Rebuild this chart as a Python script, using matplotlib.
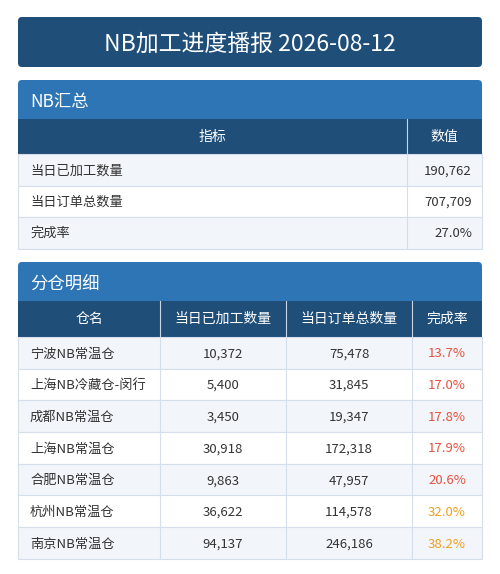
import matplotlib
matplotlib.use("Agg")
import matplotlib.pyplot as plt
from matplotlib.patches import Rectangle, FancyBboxPatch

plt.rcParams['font.family'] = ['Noto Sans CJK SC', 'DejaVu Sans']

title = "NB加工进度播报 2026-08-12"
sum_headers = ["指标", "数值"]
sum_labels = ["当日已加工数量", "当日订单总数量", "完成率"]
sum_values = ["190,762", "707,709", "27.0%"]
det_headers = ["仓名", "当日已加工数量", "当日订单总数量", "完成率"]
warehouses = ["宁波NB常温仓", "上海NB冷藏仓-闵行", "成都NB常温仓", "上海NB常温仓", "合肥NB常温仓", "杭州NB常温仓", "南京NB常温仓"]
processed = [10372, 5400, 3450, 30918, 9863, 36622, 94137]
orders = [75478, 31845, 19347, 172318, 47957, 114578, 246186]
rates = [13.7, 17.0, 17.8, 17.9, 20.6, 32.0, 38.2]

DARK = "#1f4e79"; MID = "#2e75b6"; ALT = "#f2f6fb"; LINE = "#d5dfeb"; TXT = "#333333"

fig = plt.figure(figsize=(5, 5.74), dpi=100)
ax = fig.add_axes([0, 0, 1, 1])
ax.set_xlim(0, 500); ax.set_ylim(574, 0); ax.axis("off")

def rbox(x0, y0, x1, y1, color, r=4):
    ax.add_patch(FancyBboxPatch((x0 + r, y0 + r), x1 - x0 - 2 * r, y1 - y0 - 2 * r,
                                boxstyle=f"round,pad={r}", fc=color, ec="none"))

L, R = 18, 482
rbox(L, 17, R, 67, DARK)
ax.text(250, 44, title, color="white", fontsize=16.5, ha="center", va="center")

def section(y0, y1, name):
    rbox(L, y0, R, y1 + 6, MID)
    ax.add_patch(Rectangle((L, y1), R - L, 6, fc=DARK, ec="none"))
    ax.text(30, (y0 + y1) / 2 + 3, name, color="white", fontsize=12.5, va="center")

def table(top, hh, rh, cols, headers, rows, colors=None):
    ax.add_patch(Rectangle((L, top), R - L, hh, fc=DARK, ec="none"))
    for i, h in enumerate(headers):
        ax.text((cols[i] + cols[i + 1]) / 2, top + hh / 2, h, color="white",
                fontsize=10, ha="center", va="center")
    for c in cols[1:-1]:
        ax.plot([c, c], [top, top + hh], color="#c8d6e6", lw=0.8)
    y = top + hh
    for r, row in enumerate(rows):
        ax.add_patch(Rectangle((L, y), R - L, rh, fc=ALT if r % 2 == 0 else "white",
                               ec=LINE, lw=0.8))
        for c in cols[1:-1]:
            ax.plot([c, c], [y, y + rh], color=LINE, lw=0.8)
        for i, v in enumerate(row):
            col = TXT
            if colors is not None and i == len(row) - 1:
                col = colors[r]
            if i == 0:
                ax.text(cols[0] + 12, y + rh / 2 + 1, v, color=col, fontsize=9.5, va="center")
            elif colors is None:
                ax.text(cols[i + 1] - 10, y + rh / 2 + 1, v, color=col, fontsize=9.5,
                        va="center", ha="right")
            else:
                ax.text((cols[i] + cols[i + 1]) / 2, y + rh / 2 + 1, v, color=col,
                        fontsize=9.5, va="center", ha="center")
        y += rh

section(80, 119, "NB汇总")
table(119, 35, 31.5, [L, 407, R], sum_headers,
      list(zip(sum_labels, sum_values)))

section(262, 301, "分仓明细")
rate_colors = ["#e8503f" if v < 30 else "#f0a020" for v in rates]
det_rows = [(w, f"{p:,}", f"{o:,}", f"{r:.1f}%") for w, p, o, r in zip(warehouses, processed, orders, rates)]
table(301, 36, 31.7, [L, 160, 286, 412, R], det_headers, det_rows, rate_colors)

fig.savefig("out.png", dpi=100, facecolor="white")
